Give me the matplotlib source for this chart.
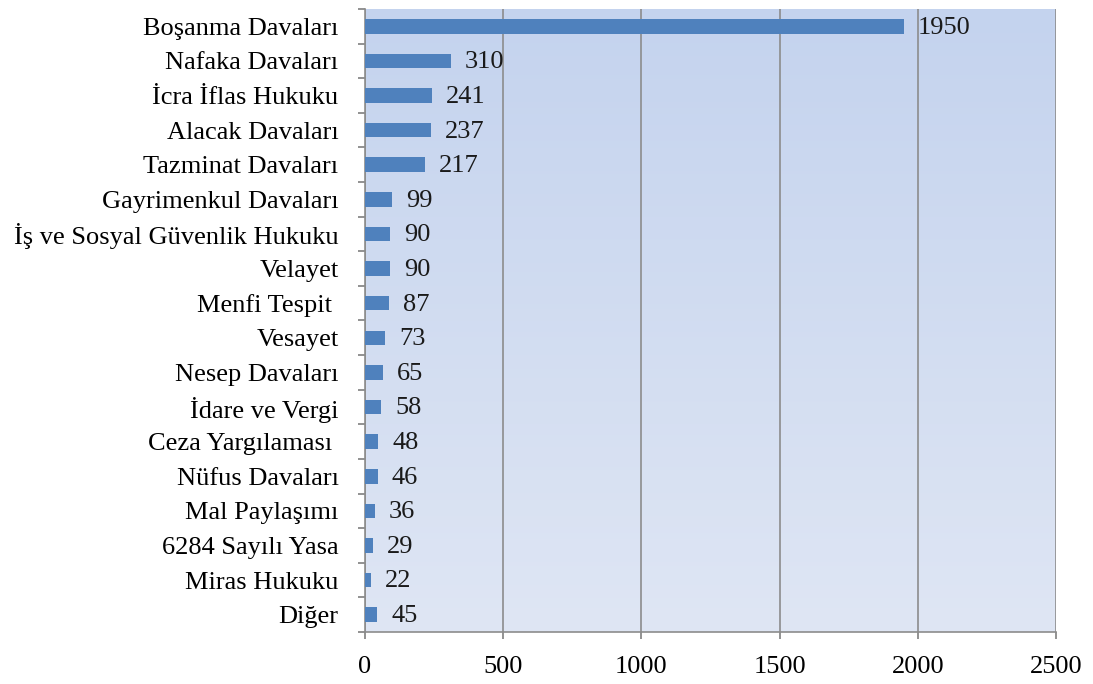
import matplotlib.pyplot as plt
import numpy as np
from matplotlib.colors import LinearSegmentedColormap

plt.rcParams['font.family'] = ['Liberation Serif', 'DejaVu Serif']

categories = ['Boşanma Davaları', 'Nafaka Davaları', 'İcra İflas Hukuku', 'Alacak Davaları',
              'Tazminat Davaları', 'Gayrimenkul Davaları', 'İş ve Sosyal Güvenlik Hukuku',
              'Velayet', 'Menfi Tespit ', 'Vesayet', 'Nesep Davaları', 'İdare ve Vergi',
              'Ceza Yargılaması ', 'Nüfus Davaları', 'Mal Paylaşımı', '6284 Sayılı Yasa',
              'Miras Hukuku', 'Diğer']
values = [1950, 310, 241, 237, 217, 99, 90, 90, 87, 73, 65, 58, 48, 46, 36, 29, 22, 45]
xticks = [0, 500, 1000, 1500, 2000, 2500]

fs = 19

fig = plt.figure(figsize=(10.93, 6.84), dpi=100)
ax = fig.add_axes([365 / 1093, 1 - 632 / 684, (1056 - 365) / 1093, (632 - 9) / 684])

# gradient background
cmap = LinearSegmentedColormap.from_list('bg', ['#dfe6f4', '#c4d3ee'])
grad = np.linspace(0, 1, 256).reshape(-1, 1)
ax.imshow(grad, cmap=cmap, aspect='auto', extent=[0, 1, 0, 1],
          transform=ax.transAxes, origin='lower', zorder=0)

y = np.arange(len(categories))
ax.barh(y, values, height=0.42, color='#4f81bd', zorder=3)
for yi, v in zip(y, values):
    ax.annotate(str(v), (v, yi), xytext=(10, -1), textcoords='offset points',
                va='center', ha='left', fontsize=fs, color='#1a1a1a', zorder=4)

ax.set_xlim(0, 2500)
ax.set_ylim(len(categories) - 0.5, -0.5)
ax.set_xticks(xticks)
ax.set_xticklabels([str(t) for t in xticks], fontsize=fs)
ax.xaxis.grid(True, color='#8c8c8c', linewidth=1.2, zorder=1)
ax.set_axisbelow(True)

ax.set_yticks(y)
ax.set_yticklabels(categories, fontsize=fs)
ax.set_yticks(np.arange(len(categories) + 1) - 0.5, minor=True)
ax.tick_params(axis='y', which='major', length=0, pad=19)
ax.tick_params(axis='y', which='minor', length=5, width=1.2, color='#7f7f7f')
ax.tick_params(axis='x', length=5, width=1.2, color='#7f7f7f', pad=12)

for s in ['top', 'right']:
    ax.spines[s].set_visible(False)
for s in ['left', 'bottom']:
    ax.spines[s].set_color('#8c8c8c')
    ax.spines[s].set_linewidth(1.2)

fig.savefig('out.png', dpi=100)
